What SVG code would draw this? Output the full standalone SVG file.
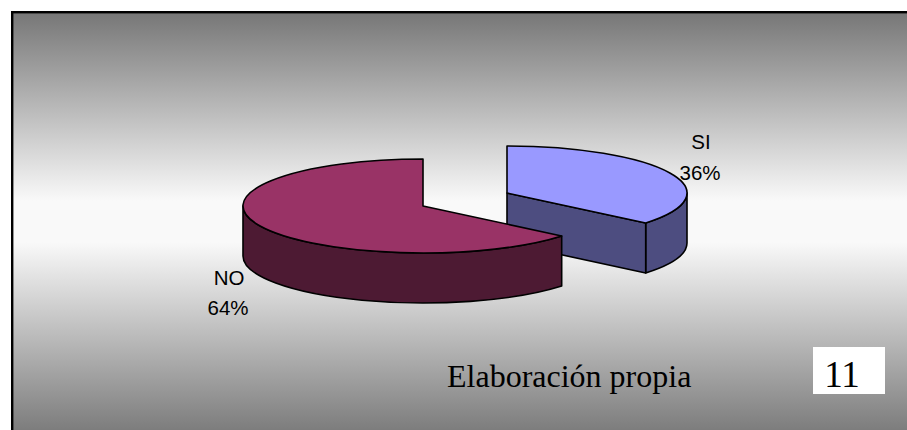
<svg xmlns="http://www.w3.org/2000/svg" width="907" height="430" viewBox="0 0 907 430">
  <defs>
    <linearGradient id="bg" x1="0" y1="13" x2="0" y2="430" gradientUnits="userSpaceOnUse">
      <stop offset="0" stop-color="#777777"/>
      <stop offset="0.45" stop-color="#f9f9f9"/>
      <stop offset="0.55" stop-color="#f9f9f9"/>
      <stop offset="1" stop-color="#7d7d7d"/>
    </linearGradient>
    <style>
      .edge { stroke: #000; stroke-width: 1.6; stroke-linejoin: round; }
      .lbl { font-family: "Liberation Sans", Arial, sans-serif; font-size: 20.5px; fill: #000; text-anchor: middle; }
      .serif { font-family: "Liberation Serif", "Times New Roman", serif; fill: #000; }
    </style>
  </defs>
  <rect x="0" y="0" width="907" height="430" fill="#ffffff"/>
  <rect id="frame" x="12.2" y="12.2" width="920" height="440" fill="url(#bg)" stroke="#000" stroke-width="2.4"/>

  <g id="slice-si">
    <path class="edge" fill="#4d4d80" d="M687,193 A180,47 0 0,1 645.69,222.96 L645.69,272.96 A180,47 0 0,0 687,243 Z"/>
    <path class="edge" fill="#4d4d80" d="M507,193 L645.69,222.96 L645.69,272.96 L507,243 Z"/>
    <path class="edge" fill="#9999ff" d="M507,193 L507,146 A180,47 0 0,1 645.69,222.96 Z"/>
  </g>

  <g id="slice-no">
    <path class="edge" fill="#4d1a33" d="M243,206 A180,47 0 0,0 561.69,235.96 L561.69,285.96 A180,47 0 0,1 243,256 Z"/>
    <path class="edge" fill="#993366" d="M423,206 L423,159 A180,47 0 1,0 561.69,235.96 Z"/>
  </g>

  <g id="label-si">
    <text class="lbl" x="701" y="149">SI</text>
    <text class="lbl" x="700" y="180">36%</text>
  </g>
  <g id="label-no">
    <text class="lbl" x="229" y="285">NO</text>
    <text class="lbl" x="228" y="315">64%</text>
  </g>

  <g id="source">
    <text class="serif" x="447" y="387" font-size="32">Elaboración propia</text>
  </g>
  <g id="page-number">
    <rect x="813" y="347" width="72" height="47" fill="#ffffff"/>
    <text class="serif" x="842" y="387" font-size="37" text-anchor="middle">11</text>
  </g>
</svg>
